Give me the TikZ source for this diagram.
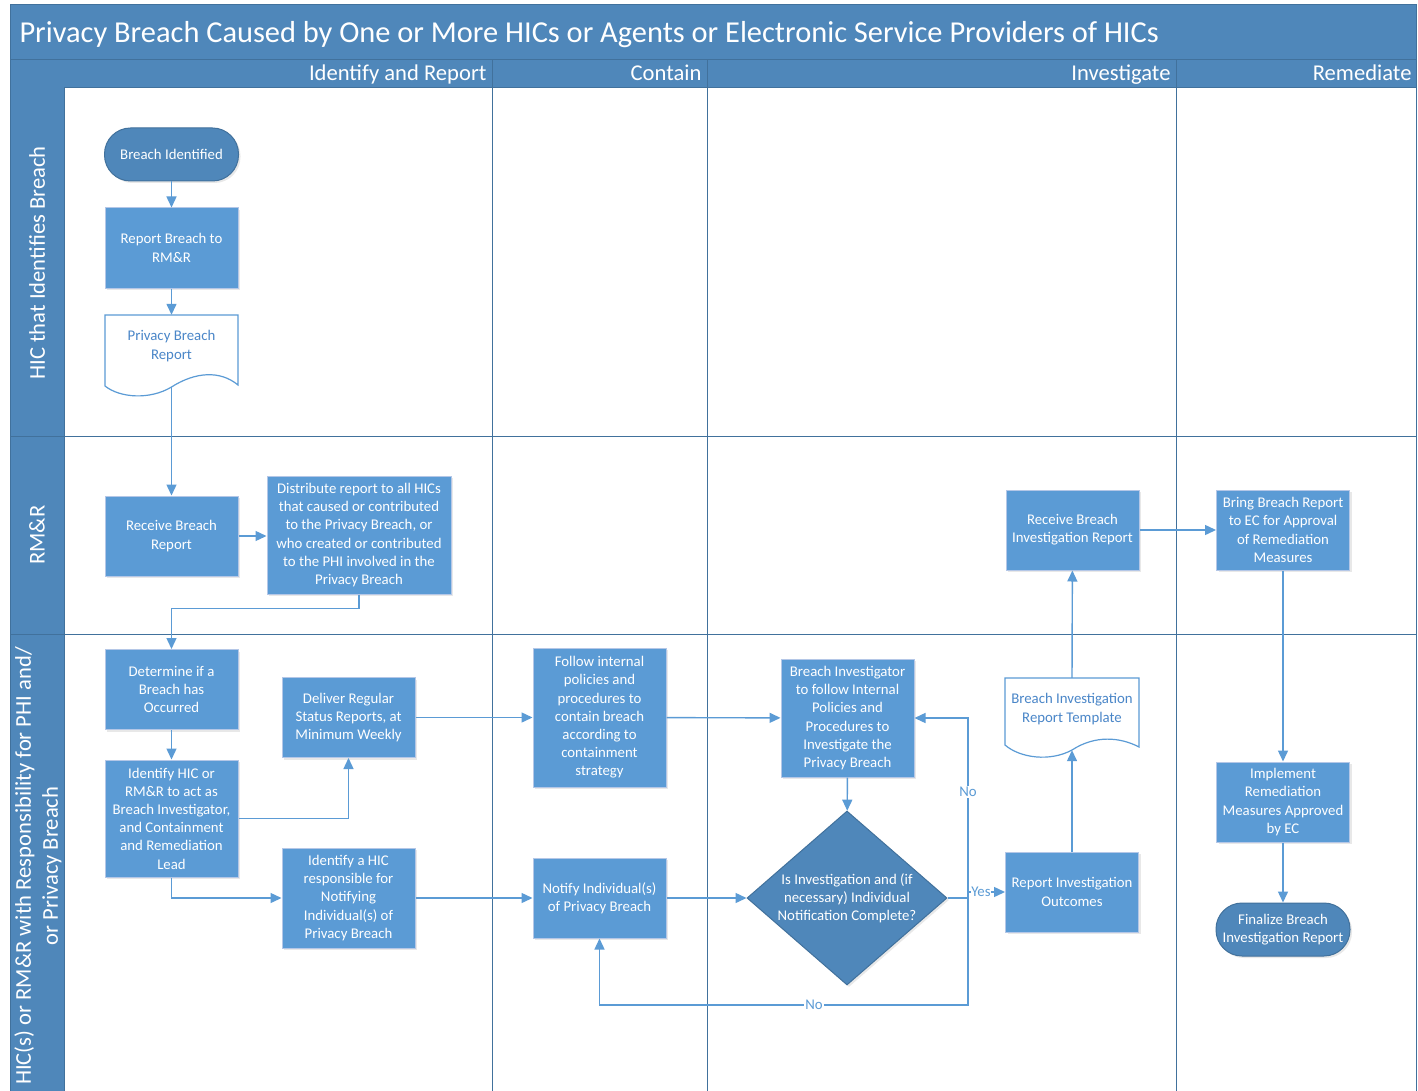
\documentclass[tikz,border=0pt]{standalone}
\usepackage{fontspec}
\setmainfont{Carlito}
\usetikzlibrary{shadows,arrows.meta,shapes.geometric}

\definecolor{band}{HTML}{4F87BA}
\definecolor{bandrule}{HTML}{41719C}
\definecolor{boxfill}{HTML}{5B9BD5}
\definecolor{boxline}{HTML}{B4C7E7}
\definecolor{flowc}{HTML}{5B9BD5}
\definecolor{termfill}{HTML}{4F87BA}
\definecolor{termline}{HTML}{41719C}
\definecolor{doctext}{HTML}{4A86C8}

\tikzset{
  boxtext/.style={font=\fontsize{14.8}{18.2}\selectfont},
  procbox/.style={rectangle, fill=boxfill, draw=boxline, line width=1pt,
    text=white, align=center, minimum width=133pt, minimum height=80pt,
    inner sep=1pt, boxtext,
    drop shadow={opacity=0.18, shadow xshift=2pt, shadow yshift=-2pt}},
  termbox/.style={rectangle, rounded corners=26pt, fill=termfill, draw=termline,
    line width=1pt, text=white, align=center, minimum width=134pt,
    minimum height=53pt, inner sep=1pt, boxtext,
    drop shadow={opacity=0.18, shadow xshift=2pt, shadow yshift=-2pt}},
  docnode/.style={rectangle, draw=none, text=doctext, align=center,
    minimum width=134pt, minimum height=72pt, inner sep=1pt, boxtext},
  docline/.style={draw=flowc, line width=1.2pt, fill=white},
  flow/.style={draw=flowc, line width=1.4pt,
    -{Triangle[length=11pt,width=10pt]}},
  flowlabel/.style={text=flowc, fill=white, inner sep=1pt, boxtext},
  lanerule/.style={draw=bandrule, line width=1pt},
  lanehead/.style={text=white, font=\fontsize{22.6}{27}\selectfont},
}

\begin{document}
\begin{tikzpicture}[x=1pt,y=-1pt]
\useasboundingbox (0,0) rectangle (1418,1091);
\fill[white] (0,0) rectangle (1418,1091);

% title band, phase header and lane label column
\fill[band] (10,5) rectangle (1416,88);
\fill[band] (10,88) rectangle (64,1091);
\draw[lanerule] (10,60) -- (1416,60);
\draw[lanerule] (64,88) -- (1416,88);
\draw[lanerule] (10,5) rectangle (1416,1091);
\draw[lanerule] (64,88) -- (64,1091);
\foreach \px in {492,707,1176} \draw[lanerule] (\px,60) -- (\px,1091);
\foreach \py in {436,634} \draw[lanerule] (10,\py) -- (1416,\py);

\node[lanehead, anchor=base west, font=\fontsize{30.4}{34}\selectfont] (title) at (16,43)
  {Privacy Breach Caused by One or More HICs or Agents or Electronic Service Providers of HICs};
\node[lanehead, anchor=base east] (ph1) at (490,81) {Identify and Report};
\node[lanehead, anchor=base east] (ph2) at (705,81) {Contain};
\node[lanehead, anchor=base east] (ph3) at (1174,81) {Investigate};
\node[lanehead, anchor=base east] (ph4) at (1415,81) {Remediate};

\node[lanehead, rotate=90] (lane1) at (37,263) {HIC that Identifies Breach};
\node[lanehead, rotate=90] (lane2) at (37,535) {RM\&R};
\node[lanehead, rotate=90, align=center] (lane3) at (38,866)
  {HIC(s) or RM\&R with Responsibility for PHI and/\\or Privacy Breach};

% identify and report
\node[termbox] (bi) at (171.5,154.5) {Breach Identified};
\node[procbox] (rep) at (171.5,248) {Report Breach to\\RM\&R};
\draw[docline] (105,315) -- (238,315) -- (238,385)
  .. controls (220,370) and (195,372) .. (171.5,387)
  .. controls (150,400) and (120,398) .. (105,386) -- cycle;
\node[docnode] (pbr) at (171.5,351) {Privacy Breach\\Report\\[-6pt]};
\node[procbox] (rcv) at (171.5,536) {Receive Breach\\Report};
\node[procbox, minimum width=184pt, minimum height=118pt] (dist) at (359,535)
  {Distribute report to all HICs\\that caused or contributed\\to the Privacy Breach, or\\who created or contributed\\to the PHI involved in the\\Privacy Breach};
\node[procbox] (det) at (171.5,689.5) {Determine if a\\Breach has\\Occurred};
\node[procbox, minimum height=117pt] (ihic) at (171.5,818.5)
  {Identify HIC or\\RM\&R to act as\\Breach Investigator,\\and Containment\\and Remediation\\Lead};
\node[procbox] (drs) at (348.5,717.5) {Deliver Regular\\Status Reports, at\\Minimum Weekly};
\node[procbox, minimum height=100pt] (ires) at (348.5,898)
  {Identify a HIC\\responsible for\\Notifying\\Individual(s) of\\Privacy Breach};

% contain
\node[procbox, minimum height=139pt] (fol) at (599.5,717.5)
  {Follow internal\\policies and\\procedures to\\contain breach\\according to\\containment\\strategy};
\node[procbox] (notify) at (599.5,898) {Notify Individual(s)\\of Privacy Breach};

% investigate
\node[procbox, minimum height=118pt] (binv) at (847.5,718)
  {Breach Investigator\\to follow Internal\\Policies and\\Procedures to\\Investigate the\\Privacy Breach};
\node[diamond, fill=termfill, draw=termline, line width=1pt, inner sep=0pt,
  minimum width=200pt, minimum height=174pt,
  drop shadow={opacity=0.18, shadow xshift=2pt, shadow yshift=-2pt}] (dia) at (847,898) {};
\node[text=white, align=center, boxtext] (diat) at (847,898)
  {Is Investigation and (if\\necessary) Individual\\Notification Complete?};
\draw[docline] (1005,678) -- (1139,678) -- (1139,747)
  .. controls (1120,737) and (1095,735) .. (1072,750)
  .. controls (1050,762) and (1020,758) .. (1005,745) -- cycle;
\node[docnode] (tpl) at (1072,714) {Breach Investigation\\Report Template\\[-6pt]};
\node[procbox] (rio) at (1072,892) {Report Investigation\\Outcomes};
\node[procbox] (rir) at (1072.5,530) {Receive Breach\\Investigation Report};

% remediate
\node[procbox] (bring) at (1283,530)
  {Bring Breach Report\\to EC for Approval\\of Remediation\\Measures};
\node[procbox] (impl) at (1283,802)
  {Implement\\Remediation\\Measures Approved\\by EC};
\node[termbox] (fin) at (1283,929.5) {Finalize Breach\\Investigation Report};

% connectors
\draw[flow] (bi) -- (rep);
\draw[flow] (rep) -- (pbr);
\draw[flow] (pbr.south) -- (rcv);
\draw[flow] (rcv.east) -- (dist.west |- rcv.east);
\draw[flow] (dist.south) -- ++(0,14) -| (det.north);
\draw[flow] (det) -- (ihic);
\draw[flow] (ihic.east) -| (drs.south);
\draw[flow] (ihic.south) |- (ires.west);
\draw[flow] (drs) -- (fol);
\draw[flow] (ires) -- (notify);
\draw[flow] (fol) -- (binv);
\draw[flow] (notify) -- (dia.west);
\draw[flow] (binv) -- (dia);
\coordinate (split) at (968,898);
\draw[flow] (dia.east) -- (split) |- (binv.east)
  node[flowlabel, pos=0.294] (no1) {No};
\draw[flow] (split) -- (968,1005) -| (notify.south)
  node[flowlabel, pos=0.209] (no2) {No};
\draw[flow] (split) |- (rio.west)
  node[flowlabel, pos=0.675, inner sep=0pt] (yes) {Yes};
\draw[flow] (rio) -- (tpl.south);
\draw[flow] (tpl.north) -- (rir);
\draw[flow] (rir) -- (bring);
\draw[flow] (bring) -- (impl);
\draw[flow] (impl) -- (fin);
\end{tikzpicture}
\end{document}
